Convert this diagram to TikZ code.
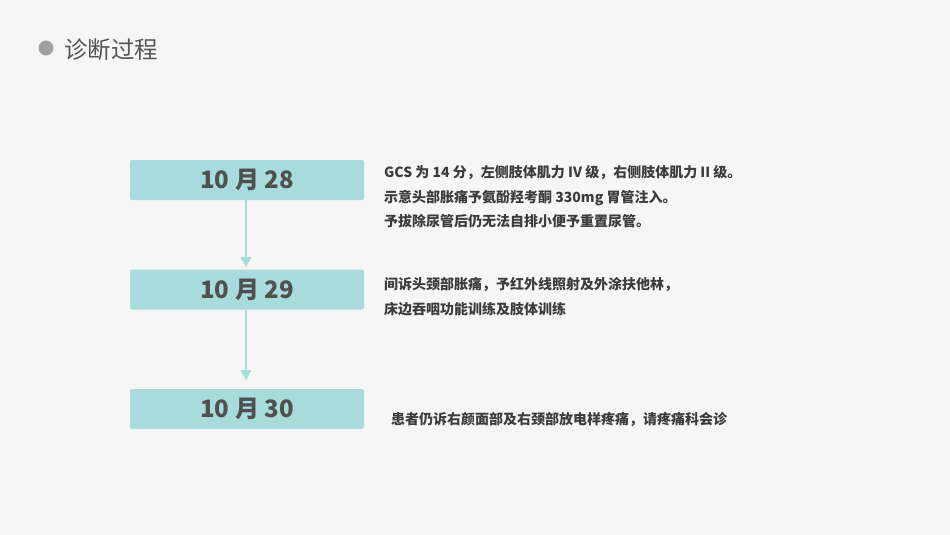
\documentclass[tikz,border=0pt]{standalone}
\usepackage{fontspec}
\setmainfont{Noto Sans CJK SC}
\usetikzlibrary{arrows.meta}
\definecolor{bg}{HTML}{F6F6F6}
\definecolor{boxc}{HTML}{A8DCDC}
\definecolor{datec}{HTML}{505050}
\definecolor{txtc}{HTML}{3C3C3C}
\definecolor{titlec}{HTML}{555555}
\definecolor{dotc}{HTML}{A0A0A0}
\tikzset{
  datebox/.style={fill=boxc, draw=none, rounded corners=2pt, minimum width=234pt, minimum height=40pt, inner sep=0pt, text=datec, font=\fontsize{24}{24}\selectfont\bfseries},
  infotext/.style={anchor=north west, inner sep=0pt, text=txtc, align=left, font=\fontsize{14}{24.5}\selectfont\bfseries},
  conn/.style={boxc, line width=1.5pt, -{Triangle[width=11pt,length=10pt]}}
}
\begin{document}
\begin{tikzpicture}[x=1pt,y=-1pt]
\fill[bg] (0,0) rectangle (950,535);
\useasboundingbox (0,0) rectangle (950,535);
\fill[dotc] (46,48) circle (7.5);
\node[anchor=west, inner sep=0pt, text=titlec, font=\fontsize{23.5}{23.5}\selectfont] (title) at (64,50) {诊断过程};
\node[datebox] (d1) at (247,180) {10 月 28};
\node[datebox] (d2) at (247,289.5) {10 月 29};
\node[datebox] (d3) at (247,409) {10 月 30};
\coordinate (t1) at (246,267);
\coordinate (t2) at (246,380);
\draw[conn] (d1.south -| t1) -- (t1);
\draw[conn] (d2.south -| t2) -- (t2);
\node[infotext] (i1) at (384,165.5) {GCS 为 14 分，左侧肢体肌力 IV 级，右侧肢体肌力 II 级。\\示意头部胀痛予氨酚羟考酮 330mg 胃管注入。\\予拔除尿管后仍无法自排小便予重置尿管。};
\node[infotext] (i2) at (384,277.5) {间诉头颈部胀痛，予红外线照射及外涂扶他林，\\床边吞咽功能训练及肢体训练};
\node[infotext] (i3) at (391,412.5) {患者仍诉右颜面部及右颈部放电样疼痛，请疼痛科会诊};
\end{tikzpicture}
\end{document}
